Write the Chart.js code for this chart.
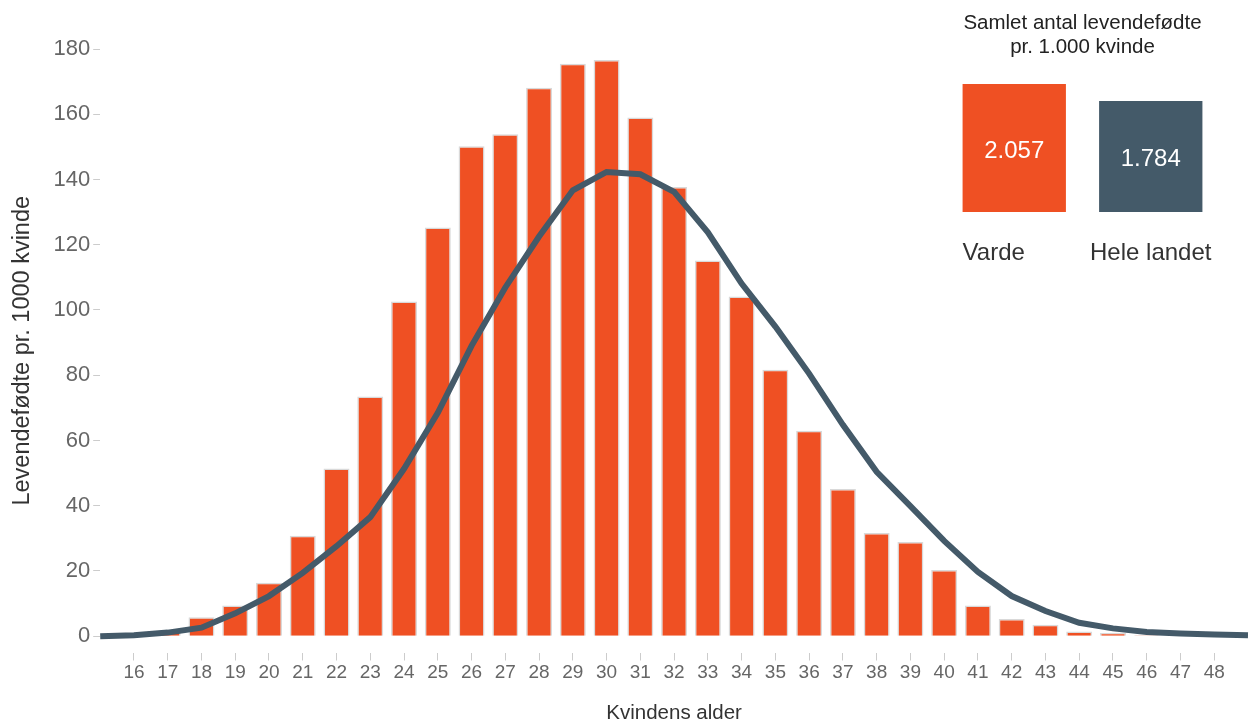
<!DOCTYPE html>
<html>
<head>
<meta charset="utf-8">
<script src="https://cdn.jsdelivr.net/npm/chart.js@4/dist/chart.umd.min.js"></script>
<style>
    html, body { margin: 0; padding: 0; background: #fff; }
    #wrap { position: relative; width: 1250px; height: 724px; }
    #main { position: absolute; left: 0; top: 0; }
    #inset { position: absolute; left: 946px; top: 0; }
    #inset-title {
        position: absolute; left: 936px; top: 10px; width: 293px;
        text-align: center; font: 20.5px "Liberation Sans", Arial, sans-serif;
        color: #222; line-height: 24px;
    }
</style>
</head>
<body>
<div id="wrap">
    <canvas id="main" width="1250" height="724"></canvas>
    <div id="inset-title">Samlet antal levendefødte<br>pr. 1.000 kvinde</div>
    <canvas id="inset" width="273" height="280"></canvas>
</div>
<script>
const ages = [15, 16, 17, 18, 19, 20, 21, 22, 23, 24, 25, 26, 27, 28, 29, 30, 31, 32,
    33, 34, 35, 36, 37, 38, 39, 40, 41, 42, 43, 44, 45, 46, 47, 48, 49];
// Varde, levendefødte pr. 1000 kvinder
const varde = [0, 0.3, 1.5, 5.8, 9.4, 16.4, 30.8, 51.4, 73.5, 102.6, 125.3, 150.2, 153.9, 168.1,
    175.5, 176.6, 159, 137.7, 115.2, 104.1, 81.7, 63, 45.1, 31.6, 28.9, 20.3, 9.4, 5.3, 3.5,
    1.4, 1.0, 0.3, 0, 0, 0];
// Hele landet
const heleLandet = [0, 0.3, 1.1, 2.6, 7, 12.3, 19.4, 27.6, 36.5, 51.3, 68.5, 89, 106.9, 122.5,
    136.7, 142.3, 141.6, 136.2, 123.8, 108.1, 94.9, 80.5, 64.8, 50.4, 39.9, 29.2, 19.7, 12.3,
    7.7, 4.1, 2.4, 1.3, 0.8, 0.5, 0.3];
const yTicks = [0, 20, 40, 60, 80, 100, 120, 140, 160, 180];

const totalLabels = ['Varde', 'Hele landet'];
const totalValues = [2.057, 1.784];

const ORANGE = '#EF5023';
const SLATE = '#445A69';
const FONT = '"Liberation Sans", Arial, sans-serif';

Chart.defaults.font.family = FONT;
Chart.defaults.animation = false;

new Chart(document.getElementById('main'), {
    type: 'bar',
    data: {
        labels: ages,
        datasets: [
            {
                type: 'line',
                label: 'Hele landet',
                data: heleLandet,
                borderColor: SLATE,
                borderWidth: 6,
                pointRadius: 0,
                tension: 0,
                order: 0,
            },
            {
                label: 'Varde',
                data: varde,
                backgroundColor: ORANGE,
                borderColor: '#d9d9d9',
                borderWidth: 1.5,
                categoryPercentage: 1,
                barPercentage: 0.77,
                order: 1,
            },
        ],
    },
    options: {
        responsive: false,
        layout: { padding: { top: 49, right: 2, left: 11, bottom: 0 } },
        plugins: { legend: { display: false }, tooltip: { enabled: false } },
        scales: {
            x: {
                offset: false,
                grid: { offset: false, drawOnChartArea: false, tickLength: 8, color: '#cccccc' },
                border: { display: false },
                ticks: {
                    autoSkip: false,
                    maxRotation: 0,
                    color: '#666',
                    font: { size: 19, lineHeight: 1 },
                    padding: 3,
                    callback: function (v, i) {
                        let a = ages[i];
                        return (a === 15 || a === 49) ? null : a;
                    },
                },
                title: {
                    display: true, text: 'Kvindens alder', color: '#333',
                    font: { size: 20.5, lineHeight: 1 }, padding: { top: 18, bottom: 0 },
                },
            },
            y: {
                min: -5,
                max: 180,
                afterBuildTicks: scale => {
                    scale.ticks = yTicks.map(v => ({ value: v }));
                },
                grid: { drawOnChartArea: false, tickLength: 7, color: '#cccccc' },
                border: { display: false },
                ticks: { color: '#666', font: { size: 22 }, padding: 3 },
                title: {
                    display: true, text: 'Levendefødte pr. 1000 kvinde', color: '#333',
                    font: { size: 23.5, lineHeight: 1 }, padding: { top: 0, bottom: 16 },
                },
            },
        },
    },
});

// inset: samlet antal
const insetLabels = {
    id: 'insetLabels',
    afterDatasetsDraw(chart) {
        const ctx = chart.ctx;
        const meta = chart.getDatasetMeta(0);
        ctx.save();
        ctx.textBaseline = 'middle';
        meta.data.forEach((bar, i) => {
            ctx.font = '24px ' + FONT;
            ctx.textAlign = 'center';
            ctx.fillStyle = '#fff';
            ctx.fillText(totalValues[i].toFixed(3), bar.x, (bar.y + bar.base) / 2 + 3);
            ctx.fillStyle = '#333';
            let w = ctx.measureText(totalLabels[i]).width;
            if (w < bar.width) {
                ctx.textAlign = 'left';
                ctx.fillText(totalLabels[i], bar.x - bar.width / 2, bar.base + 41);
            } else {
                ctx.fillText(totalLabels[i], bar.x, bar.base + 41);
            }
        });
        ctx.restore();
    },
};

new Chart(document.getElementById('inset'), {
    type: 'bar',
    data: {
        labels: totalLabels,
        datasets: [{
            data: totalValues,
            backgroundColor: [ORANGE, SLATE],
            categoryPercentage: 1,
            barPercentage: 0.757,
        }],
    },
    options: {
        responsive: false,
        layout: { padding: { top: 84, bottom: 68, left: 0, right: 0 } },
        plugins: { legend: { display: false }, tooltip: { enabled: false } },
        scales: {
            x: { display: false },
            y: { display: false, min: 0, max: 2.057 },
        },
    },
    plugins: [insetLabels],
});
</script>
</body>
</html>
